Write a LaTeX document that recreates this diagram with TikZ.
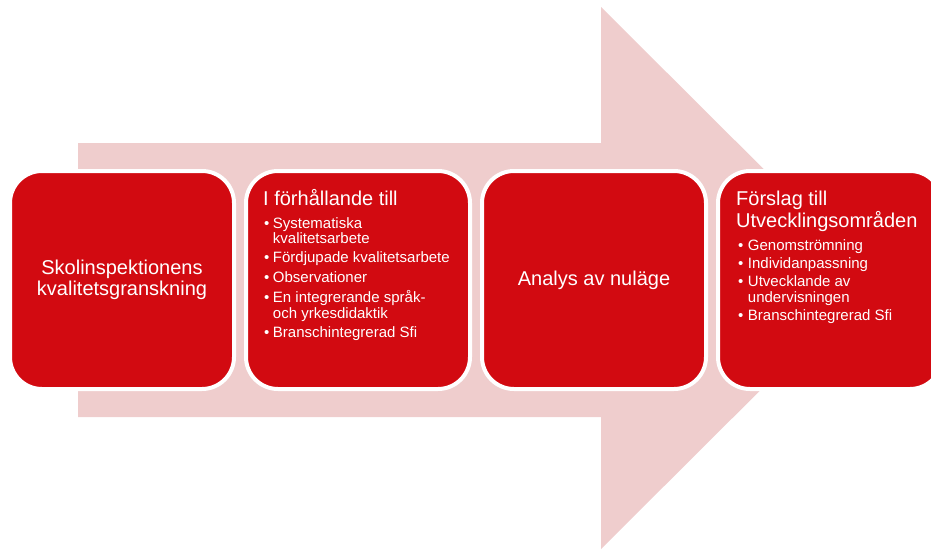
\documentclass[tikz,border=0pt]{standalone}
\usepackage{fontspec}
\setmainfont{Liberation Sans}
\definecolor{boxred}{RGB}{210,10,17}
\definecolor{arrowpink}{RGB}{239,205,205}
\begin{document}
\begin{tikzpicture}[x=1pt,y=-1pt,
  box/.style={draw=white, line width=4pt, fill=boxred, rounded corners=32pt,
    minimum width=224pt, minimum height=218pt, inner sep=0pt, text=white,
    align=center, font=\fontsize{20}{21}\selectfont},
  head/.style={text=white, inner sep=0pt, anchor=base west, font=\fontsize{20}{21}\selectfont},
  lst/.style={text=white, inner sep=0pt, anchor=base west, font=\fontsize{15}{15}\selectfont}]
\useasboundingbox (0,0) rectangle (931,549);
\clip (0,0) rectangle (931,549);
% big background arrow
\fill[arrowpink] (78,143) -- (601,143) -- (601,7) -- (873,278) -- (601,549) -- (601,417) -- (78,417) -- cycle;
% boxes
\node[box] (b1) at (122,280) {Skolinspektionens\\kvalitetsgranskning};
\node[box] (b2) at (358,280) {};
\node[box] (b3) at (594,280) {Analys av nuläge};
\node[box] (b4) at (830,280) {};
% box 2 text
\node[head] (h2) at (263,205) {I förhållande till};
\node[lst] (l2) at (264,228) {\begin{tabular}[t]{@{}l@{\hspace{3.5pt}}l@{}}
\textbullet & Systematiska\\
 & kvalitetsarbete\\[4pt]
\textbullet & Fördjupade kvalitetsarbete\\[4pt]
\textbullet & Observationer\\[4pt]
\textbullet & En integrerande språk-\\
 & och yrkesdidaktik\\[4pt]
\textbullet & Branschintegrerad Sfi
\end{tabular}};
% box 4 text
\node[head] (h4) at (736,205) {\begin{tabular}[t]{@{}l@{}}Förslag till\\Utvecklingsområden\end{tabular}};
\node[lst] (l4) at (738,250) {\begin{tabular}[t]{@{}l@{\hspace{4.5pt}}l@{}}
\textbullet & Genomströmning\\[3pt]
\textbullet & Individanpassning\\[3pt]
\textbullet & Utvecklande av\\
 & undervisningen\\[3pt]
\textbullet & Branschintegrerad Sfi
\end{tabular}};
\end{tikzpicture}
\end{document}
